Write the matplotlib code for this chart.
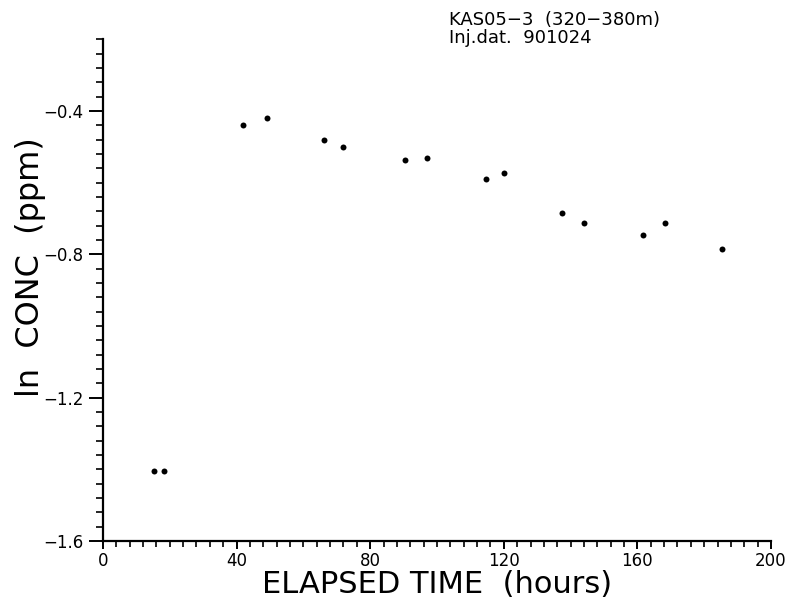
import matplotlib
matplotlib.use("Agg")
import matplotlib.pyplot as plt
from matplotlib.ticker import MultipleLocator

# Data
elapsed_hours = [15.3, 18.3, 41.8, 49.0, 66.1, 71.8, 90.3, 96.9, 114.7, 120.2,
                 137.5, 144.0, 161.6, 168.4, 185.4]
ln_conc = [-1.406, -1.406, -0.440, -0.421, -0.481, -0.500, -0.537, -0.532,
           -0.591, -0.572, -0.686, -0.712, -0.746, -0.714, -0.786]
x_ticks = [0, 40, 80, 120, 160, 200]
y_ticks = [-1.6, -1.2, -0.8, -0.4]

plt.rcParams['font.family'] = ['DejaVu Sans']

fig = plt.figure(figsize=(7.92, 6.13), dpi=100)
ax = fig.add_axes([0.130, 0.1175, 0.8435, 0.8185])

ax.plot(elapsed_hours, ln_conc, 'o', color='black', markersize=4.3, markeredgewidth=0)

ax.set_xlim(0, 200)
ax.set_ylim(-1.6, -0.2)
ax.set_xticks(x_ticks)
ax.set_yticks(y_ticks)
ax.set_xticklabels([str(v) for v in x_ticks])
ax.set_yticklabels([f"{v:.1f}".replace('-', '\u2212') for v in y_ticks])
ax.xaxis.set_minor_locator(MultipleLocator(4))
ax.yaxis.set_minor_locator(MultipleLocator(0.04))

for s in ['top', 'right']:
    ax.spines[s].set_visible(False)
for s in ['left', 'bottom']:
    ax.spines[s].set_linewidth(1.6)

ax.tick_params(axis='y', which='major', direction='out', length=10, width=1.4,
               labelsize=12, pad=4)
ax.tick_params(axis='y', which='minor', direction='out', length=5, width=1.2)
ax.tick_params(axis='x', which='major', direction='out', length=6, width=1.4,
               labelsize=12, pad=2)
ax.tick_params(axis='x', which='minor', direction='out', length=4, width=1.2)

ax.set_xlabel('ELAPSED TIME  (hours)', fontsize=22, labelpad=0)
ax.set_ylabel('ln  CONC  (ppm)', fontsize=23)
ax.yaxis.set_label_coords(-0.086, 0.546)

fig.text(449 / 792, 1 - 20 / 613, 'KAS05\u22123  (320\u2212380m)', fontsize=13,
         ha='left', va='center')
fig.text(449 / 792, 1 - 38 / 613, 'Inj.dat.  901024', fontsize=13,
         ha='left', va='center')

fig.savefig('out.png', dpi=100)
